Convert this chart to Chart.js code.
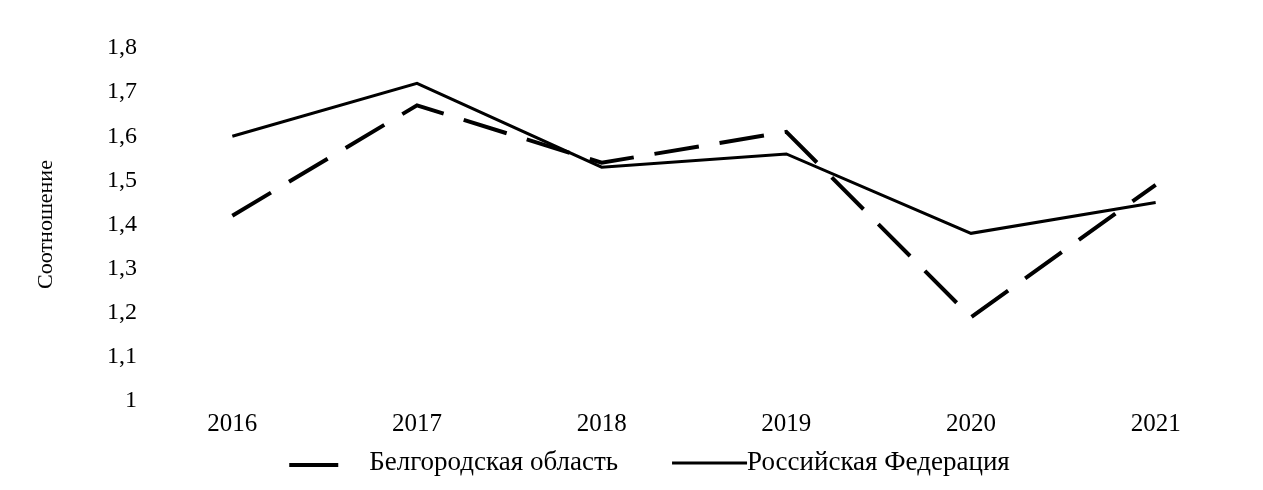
<!DOCTYPE html>
<html>
<head>
<meta charset="utf-8">
<script src="https://cdn.jsdelivr.net/npm/chart.js@4"></script>
<style>
  html, body { margin: 0; padding: 0; background: #fff; }
  #wrap { width: 1263px; height: 490px; }
</style>
</head>
<body>
<div id="wrap"><canvas id="chart"></canvas></div>
<script>
// years on the x axis
const years = ['2016', '2017', '2018', '2019', '2020', '2021'];
// ratio, Belgorod region (dashed)
const belgorod = [1.42, 1.67, 1.54, 1.61, 1.19, 1.49];
// ratio, Russian Federation (solid)
const russia = [1.6, 1.72, 1.53, 1.56, 1.38, 1.45];
const seriesNames = ['Белгородская область', 'Российская Федерация'];
const yTitle = 'Соотношение';

const font = 'Liberation Serif, Times New Roman, serif';
const dashPattern = [45, 21];

// legend drawn below the axis: short dashed sample, long solid sample
const bottomLegend = {
  id: 'bottomLegend',
  afterDraw: (chart) => {
    const ctx = chart.ctx;
    const y = 463;
    ctx.save();
    ctx.font = '27px ' + font;
    ctx.fillStyle = '#000';
    ctx.strokeStyle = '#000';
    ctx.textBaseline = 'middle';
    const w1 = ctx.measureText(seriesNames[0]).width;
    const w2 = ctx.measureText(seriesNames[1]).width;
    const total = 49 + 31 + w1 + 54 + 75 + w2;
    let x = chart.width / 2 + 18 - total / 2;

    ctx.lineWidth = 4;
    ctx.beginPath();
    ctx.moveTo(x, y + 2);
    ctx.lineTo(x + 49, y + 2);
    ctx.stroke();
    x += 49 + 31;
    ctx.fillText(seriesNames[0], x, y);
    x += w1 + 54;

    ctx.lineWidth = 3;
    ctx.beginPath();
    ctx.moveTo(x, y);
    ctx.lineTo(x + 75, y);
    ctx.stroke();
    x += 75;
    ctx.fillText(seriesNames[1], x, y);
    ctx.restore();
  }
};

new Chart(document.getElementById('chart'), {
  type: 'line',
  data: {
    labels: years,
    datasets: [{
      label: seriesNames[0],
      data: belgorod,
      borderColor: '#000',
      borderWidth: 4,
      borderDash: dashPattern,
      pointRadius: 0,
      tension: 0
    }, {
      label: seriesNames[1],
      data: russia,
      borderColor: '#000',
      borderWidth: 3,
      pointRadius: 0,
      tension: 0
    }]
  },
  options: {
    responsive: true,
    maintainAspectRatio: false,
    animation: false,
    layout: {
      padding: {top: 48, right: 15, bottom: 49, left: 0}
    },
    plugins: {
      tooltip: {enabled: false},
      legend: {display: false}
    },
    scales: {
      x: {
        offset: true,
        grid: {display: false, drawTicks: false},
        border: {display: false},
        afterFit: (scale) => { scale.height = 40; },
        ticks: {color: '#000', font: {family: font, size: 25}, padding: 8}
      },
      y: {
        min: 1,
        max: 1.8,
        grid: {display: false, drawTicks: false},
        border: {display: false},
        afterFit: (scale) => { scale.width = 140; },
        ticks: {
          stepSize: 0.1,
          color: '#000',
          padding: 3,
          font: {family: font, size: 24},
          callback: (value) => (Math.round(value * 10) / 10).toString().replace('.', ',')
        },
        title: {
          display: true,
          text: yTitle,
          color: '#000',
          font: {family: font, size: 22},
          padding: {top: 33, bottom: 0}
        }
      }
    }
  },
  plugins: [bottomLegend]
});
</script>
</body>
</html>
